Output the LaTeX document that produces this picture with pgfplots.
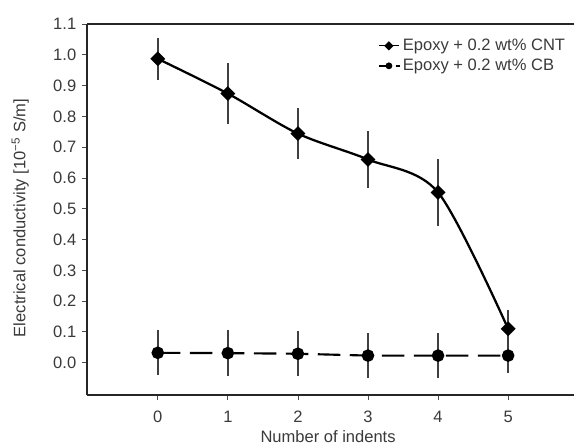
\documentclass[border=0pt]{standalone}
\usepackage{fontspec}
\setmainfont{Liberation Sans}
\usepackage{pgfplots}
\pgfplotsset{compat=1.18}
\definecolor{txt}{HTML}{3A3A3A}
\definecolor{ebar}{HTML}{404040}

% legend images: short line with a small mark in the middle
\pgfplotsset{
    cntleg/.style={legend image code/.code={
        \draw[##1, line width=1pt] (0pt,0pt) -- (15pt,0pt);
        \draw[##1, only marks, mark size=1.6pt] plot coordinates {(7.5pt,0pt)};}},
    cbleg/.style={legend image code/.code={
        \draw[##1, line width=1pt, dash pattern=on 10pt off 2.5pt on 3pt off 10pt]
            (0pt,0pt) -- (15.5pt,0pt);
        \draw[##1, only marks, mark size=1.7pt] plot coordinates {(7.5pt,0pt)};}},
}

\begin{document}
\fontsize{12.4}{14}\selectfont
\begin{tikzpicture}
\begin{axis}[
    scale only axis, width=365.25pt, height=278.25pt,
    at={(0,0)}, anchor=south west,
    xmin=-1.01, xmax=5.94, ymin=-0.105, ymax=1.1,
    axis x line*=bottom, axis y line*=left,
    axis line style={line width=0.9pt, black!85, -},
    xtick={0,1,2,3,4,5},
    ytick={0,0.1,0.2,0.3,0.4,0.5,0.6,0.7,0.8,0.9,1.0,1.1},
    tick align=outside, major tick length=3.75pt,
    tick style={line width=0.6pt, black!70},
    yticklabel style={/pgf/number format/.cd, fixed, fixed zerofill, precision=1},
    /pgf/number format/assume math mode=true,
    ticklabel style={font=\fontsize{12.4}{14}\selectfont, text=txt},
    xticklabel style={yshift=-4pt},
    xlabel={Number of indents},
    ylabel={Electrical conductivity [10\textsuperscript{−5} S/m]},
    label style={font=\fontsize{12.4}{14}\selectfont, text=txt},
    xlabel style={at={(axis description cs:0.495,-0.112)}, anchor=center},
    ylabel style={at={(axis description cs:-0.137,0.477)}, anchor=center},
    clip mode=individual,
    legend style={draw=none, fill=none, inner sep=0pt,
        at={(0.5975,0.968)}, anchor=north west,
        font=\fontsize{12.4}{14}\selectfont, text=txt,
        row sep=0.5pt},
    legend cell align=left,
    error bars/error mark=none,
    error bars/error bar style={line width=1.1pt, ebar},
]
\addplot[black, line width=1.7pt, smooth, mark=square*,
    mark options={rotate=45, solid}, mark size=3.1pt, cntleg,
    error bars/.cd, y dir=both, y explicit]
    coordinates {
    (0, 0.987) +- (0, 0.068)
    (1, 0.874) +- (0, 0.100)
    (2, 0.744) +- (0, 0.083)
    (3, 0.660) +- (0, 0.093)
    (4, 0.553) +- (0, 0.108)
    (5, 0.110) +- (0, 0.062)
};
\addlegendentry{Epoxy + 0.2 wt\% CNT}

\addplot[black, line width=1.6pt, dash pattern=on 17pt off 7pt,
    mark=*, mark options={solid}, mark size=3.9pt, cbleg,
    error bars/.cd, y dir=both, y explicit]
    coordinates {
    (0, 0.032) +- (0, 0.085)
    (1, 0.031) +- (0, 0.100)
    (2, 0.029) +- (0, 0.090)
    (3, 0.023) +- (0, 0.077)
    (4, 0.023) +- (0, 0.082)
    (5, 0.023) +- (0, 0.055)
};
\addlegendentry{Epoxy + 0.2 wt\% CB}

\draw[line width=1.1pt, black!85] (rel axis cs:0,1) -- (rel axis cs:1,1);
\end{axis}
\pgfresetboundingbox
\path[use as bounding box]
    ([shift={(-65.25pt,-38.25pt)}]current axis.south west)
    rectangle ([shift={(0pt,18pt)}]current axis.north east);
\end{tikzpicture}
\end{document}
